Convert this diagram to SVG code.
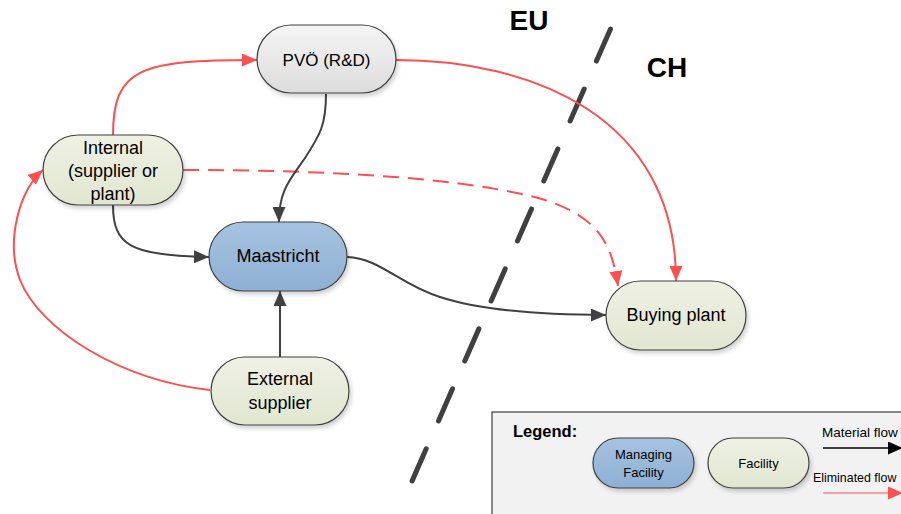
<svg xmlns="http://www.w3.org/2000/svg" width="901" height="514" viewBox="0 0 901 514">
  <style>
    text { font-family: "Liberation Sans", Arial, sans-serif; fill: #000; }
    .lbl { font-size: 18px; text-anchor: middle; }
    .small { font-size: 13px; }
    .key { font-size: 13.5px; }
    .node { stroke: #404040; stroke-width: 1.2; filter: url(#shadow); }
    .facility { fill: url(#gFacility); }
    .managing { fill: url(#gManaging); }
    .rnd { fill: url(#gRnd); }
    .flow { fill: none; stroke: #404040; stroke-width: 2; marker-end: url(#arrowDark); }
    .elim { fill: none; stroke: #ff4f4f; stroke-width: 2; marker-end: url(#arrowRed); }
    .dash { stroke-dasharray: 16 9; }
    .border { fill: none; stroke: #404040; stroke-width: 5; stroke-linecap: round; stroke-dasharray: 35 30.5; }
    .region { font-size: 28px; font-weight: bold; text-anchor: middle; }
  </style>
  <defs>
    <linearGradient id="gFacility" x1="0" y1="0" x2="0" y2="1">
      <stop offset="0" stop-color="#eff1e4"/>
      <stop offset="1" stop-color="#e1e6d0"/>
    </linearGradient>
    <linearGradient id="gManaging" x1="0" y1="0" x2="0" y2="1">
      <stop offset="0" stop-color="#a6c3e0"/>
      <stop offset="1" stop-color="#8eb0d4"/>
    </linearGradient>
    <linearGradient id="gRnd" x1="0" y1="0" x2="0" y2="1">
      <stop offset="0" stop-color="#f5f5f5"/>
      <stop offset="1" stop-color="#dcdcdc"/>
    </linearGradient>
    <filter id="shadow" x="-10%" y="-10%" width="130%" height="140%">
      <feDropShadow dx="2" dy="3" stdDeviation="2" flood-color="#000" flood-opacity="0.18"/>
    </filter>
    <marker id="arrowDark" viewBox="0 0 15 13" refX="15" refY="6.5" markerWidth="15" markerHeight="13" markerUnits="userSpaceOnUse" orient="auto">
      <path d="M0,0 L15,6.5 L0,13 z" fill="#404040"/>
    </marker>
    <marker id="arrowRed" viewBox="0 0 15 13" refX="15" refY="6.5" markerWidth="15" markerHeight="13" markerUnits="userSpaceOnUse" orient="auto">
      <path d="M0,0 L15,6.5 L0,13 z" fill="#ff4f4f"/>
    </marker>
    <marker id="arrowBlack" viewBox="0 0 15 13" refX="15" refY="6.5" markerWidth="15" markerHeight="13" markerUnits="userSpaceOnUse" orient="auto">
      <path d="M0,0 L15,6.5 L0,13 z" fill="#000"/>
    </marker>
  </defs>

  <!-- EU / CH border -->
  <path class="border" d="M610.5,29 L409,488"/>
  <text class="region" x="529" y="30">EU</text>
  <text class="region" x="667" y="77">CH</text>

  <!-- connectors -->
  <g id="connectors">
    <path class="elim" d="M113,135 C113,68 140,60 257,60"/>
    <path class="elim" d="M396,60 C530,60 676,115 676,281"/>
    <path class="elim dash" d="M183,170 C330,170 470,178 545,200 C600,218 612,245 618,286"/>
    <path class="elim" d="M210,390 C120,380 40,330 20,280 C5,240 20,190 43,170"/>
    <path class="flow" d="M326,94 C326,125 320,135 305,158 C290,180 279,190 279,222"/>
    <path class="flow" d="M113,205 C113,245 130,256 209,257"/>
    <path class="flow" d="M280,357 L280,291"/>
    <path class="flow" d="M347,257 C380,258 400,285 440,297 C480,310 540,315 606,315"/>
  </g>

  <!-- nodes -->
  <g id="node-rnd">
    <rect class="node rnd" x="257" y="25" width="139" height="68" rx="34" ry="34"/>
    <text class="lbl" x="326.5" y="66" style="font-size:17px">PVÖ (R&amp;D)</text>
  </g>
  <g id="node-internal">
    <rect class="node facility" x="43" y="135" width="140" height="70" rx="35" ry="35"/>
    <text class="lbl" x="113" y="154">Internal</text>
    <text class="lbl" x="113" y="177">(supplier or</text>
    <text class="lbl" x="113" y="200">plant)</text>
  </g>
  <g id="node-maastricht">
    <rect class="node managing" x="209" y="222" width="138" height="69" rx="34.5" ry="34.5"/>
    <text class="lbl" x="278" y="262">Maastricht</text>
  </g>
  <g id="node-external">
    <rect class="node facility" x="211" y="357" width="138" height="68" rx="34" ry="34"/>
    <text class="lbl" x="280" y="385">External</text>
    <text class="lbl" x="280" y="409">supplier</text>
  </g>
  <g id="node-buying">
    <rect class="node facility" x="606" y="281" width="140" height="69" rx="34.5" ry="34.5"/>
    <text class="lbl" x="676" y="321">Buying plant</text>
  </g>

  <!-- legend -->
  <g id="legend">
    <rect x="492" y="412" width="430" height="120" fill="#f2f2f2" stroke="#404040" stroke-width="1.2"/>
    <text x="513" y="437" style="font-size:16.5px;font-weight:bold">Legend:</text>
    <rect class="node managing" x="593" y="438" width="101" height="50" rx="25" ry="25"/>
    <text class="small" x="643.5" y="459" text-anchor="middle">Managing</text>
    <text class="small" x="643.5" y="477" text-anchor="middle">Facility</text>
    <rect class="node facility" x="708" y="438" width="101" height="50" rx="25" ry="25"/>
    <text class="small" x="758.5" y="468" text-anchor="middle">Facility</text>
    <text class="key" x="822" y="437">Material flow</text>
    <path d="M823,448 L903,448" stroke="#000" stroke-width="1.5" fill="none" marker-end="url(#arrowBlack)"/>
    <text class="key" x="813" y="482" style="font-size:12.4px">Eliminated flow</text>
    <path d="M823,493 L903,493" stroke="#ff4f4f" stroke-width="1.2" fill="none" marker-end="url(#arrowRed)"/>
  </g>
</svg>
